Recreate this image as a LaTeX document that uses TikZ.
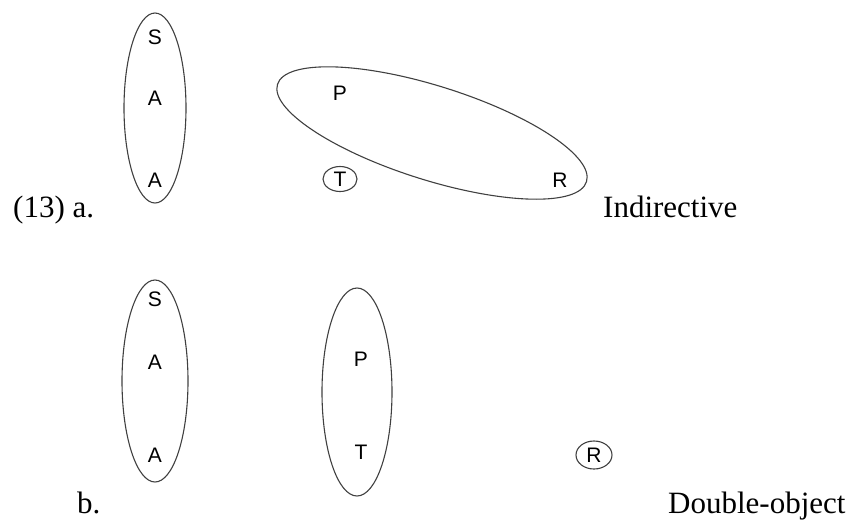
\documentclass[tikz,border=0pt]{standalone}
\usepackage{fontspec}
\setmainfont{Liberation Serif}
\newfontfamily\rolefont{Liberation Sans}
\usetikzlibrary{shapes.geometric}

\begin{document}
\begin{tikzpicture}[x=1pt, y=-1pt,
  ring/.style={draw=black!75, line width=1.1pt, ellipse, inner sep=0pt},
  role/.style={font=\rolefont\fontsize{21}{21}\selectfont, inner sep=0pt},
  tag/.style={font=\fontsize{31}{31}\selectfont, anchor=base west, inner sep=0pt}]
\useasboundingbox (0,0) rectangle (855,523);
% (13) a. Indirective
\node[ring, minimum width=62, minimum height=190] (saaA) at (155,108) {};
\node[role] (sA) at (155,37) {S};
\node[role] (aA) at (155,98) {A};
\node[role] (a2A) at (155,180) {A};
\node[ring, minimum width=324, minimum height=94, rotate=-17.5] (prA) at (432,133) {};
\node[role] (pA) at (340,93) {P};
\node[role] (rA) at (560,180) {R};
\node[ring, role, minimum width=34, minimum height=25] (tA) at (340,179) {T};
\node[tag] (numA) at (13,217) {(13) a.};
\node[tag] (nameA) at (603,217) {Indirective};
% b. Double-object
\node[ring, minimum width=66, minimum height=202] (saaB) at (155,381) {};
\node[role] (sB) at (155,299) {S};
\node[role] (aB) at (155,362) {A};
\node[role] (a2B) at (155,455) {A};
\node[ring, minimum width=70, minimum height=208] (ptB) at (357,392) {};
\node[role] (pB) at (361,359) {P};
\node[role] (tB) at (361,452) {T};
\node[ring, role, minimum width=36, minimum height=28] (rB) at (594,455) {R};
\node[tag] (numB) at (77,513) {b.};
\node[tag] (nameB) at (668,513) {Double-object};
\end{tikzpicture}
\end{document}
